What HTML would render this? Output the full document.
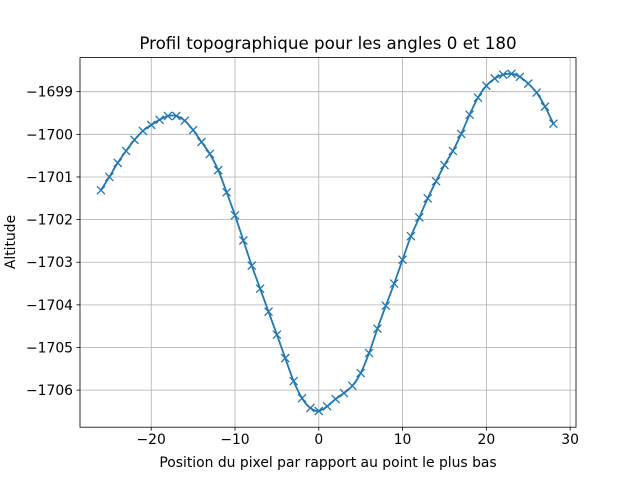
<!DOCTYPE html>
<html><head><meta charset="utf-8"><style>
body{margin:0;background:#fff;}
svg text{font-family:"DejaVu Sans","Liberation Sans",sans-serif;fill:#000;}
</style></head><body>
<svg id="chart" width="640" height="480" xmlns="http://www.w3.org/2000/svg">
<rect width="640" height="480" fill="#fff"/>
<g id="grid"></g>
<g id="series"></g>
<rect x="80" y="57.6" width="496" height="369.6" fill="none" stroke="#000" stroke-width="0.8"/>
<g id="axes"></g>
<text x="328" y="49" font-size="16.7" text-anchor="middle">Profil topographique pour les angles 0 et 180</text>
<text x="328" y="467" font-size="13.9" text-anchor="middle">Position du pixel par rapport au point le plus bas</text>
<text transform="translate(15,242) rotate(-90)" font-size="13.9" text-anchor="middle">Altitude</text>
</svg>
<script>
const xValues=[-26,-25,-24,-23,-22,-21,-20,-19,-18,-17,-16,-15,-14,-13,-12,-11,-10,-9,-8,-7,-6,-5,-4,-3,-2,-1,0,1,2,3,4,5,6,7,8,9,10,11,12,13,14,15,16,17,18,19,20,21,22,23,24,25,26,27,28];
const altitudes=[-1701.31,-1701.0,-1700.67,-1700.39,-1700.13,-1699.92,-1699.78,-1699.66,-1699.57,-1699.57,-1699.68,-1699.9,-1700.18,-1700.46,-1700.84,-1701.36,-1701.9,-1702.49,-1703.08,-1703.62,-1704.16,-1704.7,-1705.25,-1705.79,-1706.19,-1706.42,-1706.49,-1706.38,-1706.21,-1706.07,-1705.9,-1705.6,-1705.13,-1704.56,-1704.02,-1703.5,-1702.94,-1702.39,-1701.95,-1701.5,-1701.1,-1700.72,-1700.39,-1699.99,-1699.54,-1699.14,-1698.86,-1698.69,-1698.6,-1698.58,-1698.65,-1698.81,-1699.02,-1699.35,-1699.75];
const xTicks=[-20,-10,0,10,20,30];
const yTicks=[-1699,-1700,-1701,-1702,-1703,-1704,-1705,-1706];
const NS="http://www.w3.org/2000/svg";
const X0=80,X1=576,Y0=57.6,Y1=427.2;
const xMin=-28.5,xMax=30.7,yMin=-1706.87,yMax=-1698.2;
const sx=v=>X0+(v-xMin)/(xMax-xMin)*(X1-X0);
const sy=v=>Y1-(v-yMin)/(yMax-yMin)*(Y1-Y0);
function mk(t,a,p){const e=document.createElementNS(NS,t);for(const k in a)e.setAttribute(k,a[k]);p.appendChild(e);return e;}
const grid=document.getElementById('grid'),axes=document.getElementById('axes'),ser=document.getElementById('series');
xTicks.forEach(t=>{const x=sx(t);
 const g=mk('line',{x1:x,x2:x,y1:Y0,y2:Y1,stroke:'#b0b0b0','stroke-width':0.8},grid);
 
 
 mk('line',{x1:x,x2:x,y1:Y1,y2:Y1+3.5,stroke:'#000','stroke-width':0.8},axes);
 const l=mk('text',{x:x,y:Y1+17,'font-size':13.9,'text-anchor':'middle'},axes);
 l.textContent=String(t).replace('-','\u2212');
 
 
});
yTicks.forEach(t=>{const y=sy(t);
 const g=mk('line',{x1:X0,x2:X1,y1:y,y2:y,stroke:'#b0b0b0','stroke-width':0.8},grid);
 
 
 mk('line',{x1:X0-3.5,x2:X0,y1:y,y2:y,stroke:'#000','stroke-width':0.8},axes);
 const l=mk('text',{x:X0-7,y:y+5,'font-size':13.9,'text-anchor':'end'},axes);
 l.textContent=String(t).replace('-','\u2212');
 
 
});
const pts=xValues.map((x,i)=>[sx(x),sy(altitudes[i])]);
let d='M'+pts[0][0]+','+pts[0][1];
for(let i=0;i<pts.length-1;i++){
 const p0=pts[Math.max(i-1,0)],p1=pts[i],p2=pts[i+1],p3=pts[Math.min(i+2,pts.length-1)];
 d+=' C'+(p1[0]+(p2[0]-p0[0])/6)+','+(p1[1]+(p2[1]-p0[1])/6)+' '+(p2[0]-(p3[0]-p1[0])/6)+','+(p2[1]-(p3[1]-p1[1])/6)+' '+p2[0]+','+p2[1];
}
const line=mk('path',{d:d,fill:'none',stroke:'#1f77b4','stroke-width':1.8},ser);


pts.forEach(p=>{
 const m=mk('path',{d:`M${p[0]-4},${p[1]-4}L${p[0]+4},${p[1]+4}M${p[0]-4},${p[1]+4}L${p[0]+4},${p[1]-4}`,stroke:'#1f77b4','stroke-width':1.3},ser);
 
 
});
</script>
</body></html>
